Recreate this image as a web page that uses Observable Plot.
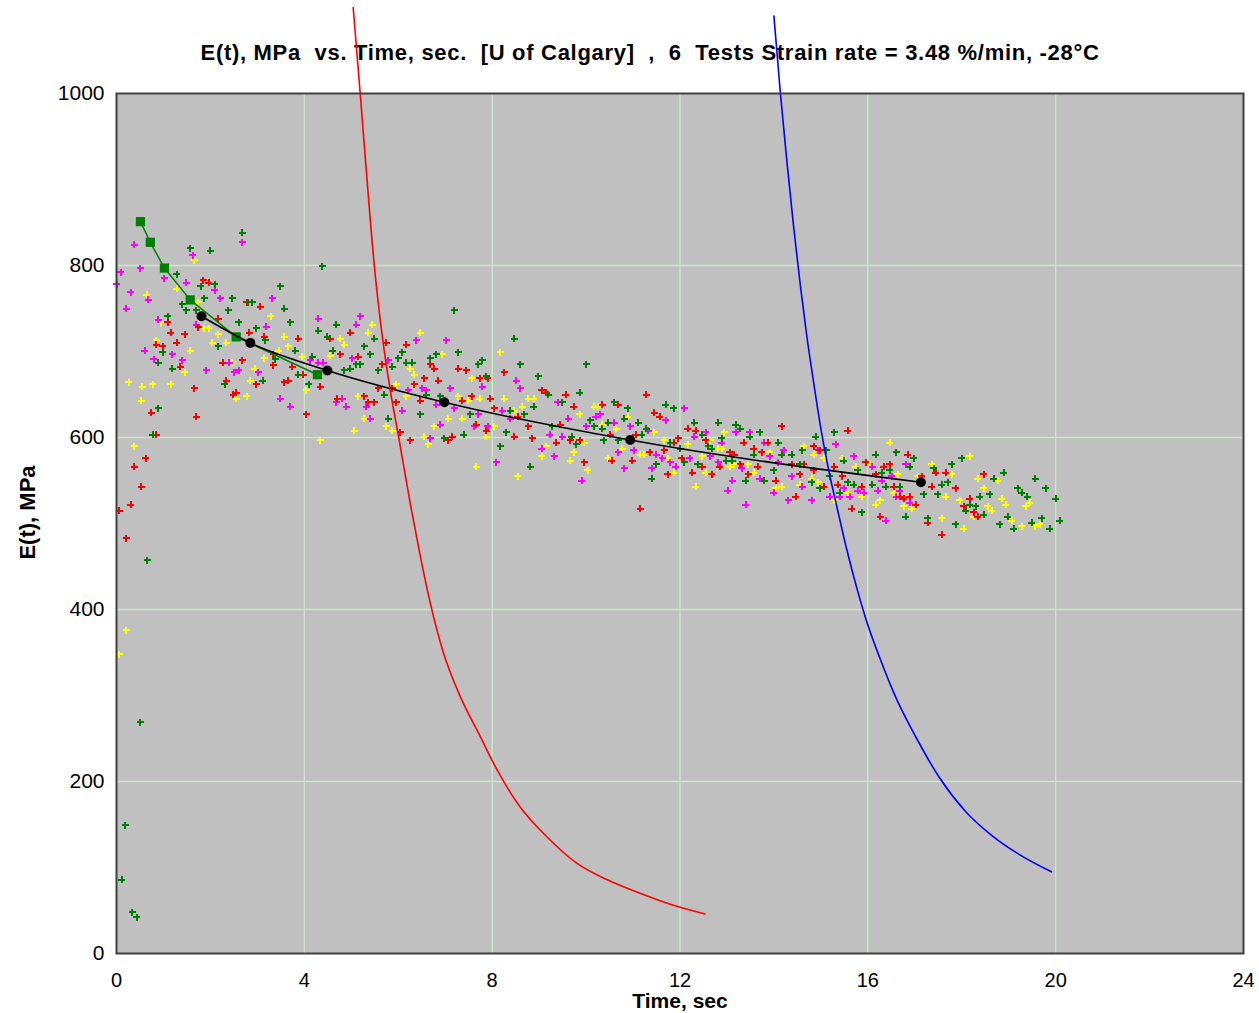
<!DOCTYPE html>
<html>
<head>
<meta charset="utf-8">
<script src="https://cdn.jsdelivr.net/npm/d3@7"></script>
<script src="https://cdn.jsdelivr.net/npm/@observablehq/plot@0.6"></script>
<style>
  html, body { margin: 0; padding: 0; background: #ffffff; }
  #chart svg text { white-space: pre; }
  #chart svg .title-text text { letter-spacing: 0.7px; }
</style>
</head>
<body>
<div id="chart"></div>
<script>
const titleText = "E(t), MPa  vs. Time, sec.  [U of Calgary]  ,  6  Tests Strain rate = 3.48 %/min, -28°C";
const xLabel = "Time, sec";
const yLabel = "E(t), MPa";
const xTicks = [0, 4, 8, 12, 16, 20, 24];
const yTicks = [0, 200, 400, 600, 800, 1000];

// scatter: [time (s), E(t) (MPa)]
const greenPts = [
  [2.68,838],[1.57,820],[2.00,817],[4.38,799],[1.28,790],[2.09,778],[1.79,776],[3.49,776],[1.87,762],[2.47,762],
  [2.81,757],[2.89,757],[1.40,755],[3.57,750],[1.49,748],[1.70,748],[2.38,748],[1.09,741],[2.60,734],[3.70,734],
  [4.30,724],[4.68,731],[2.98,727],[4.49,717],[3.17,713],[2.17,706],[0.98,699],[4.60,701],[0.89,687],[1.19,680],
  [3.81,701],[4.17,694],[3.38,691],[3.87,673],[3.11,666],[2.30,662],[4.09,662],
  [0.89,634],[0.77,603],[0.66,457],[0.51,269],[0.19,149],[0.11,86],[0.34,48],[0.43,42],
  [7.19,748],[5.49,715],[5.28,706],[8.47,715],[5.40,697],[6.09,699],[6.00,692],[6.68,692],[6.81,697],[7.28,699],
  [6.17,687],[6.30,687],[5.11,685],[5.19,685],[7.79,690],[7.70,685],[8.60,685],[4.98,680],[4.85,678],[5.57,678],
  [5.87,682],[7.87,671],[8.98,671],[5.70,650],[6.60,650],[6.89,648],[9.19,650],[8.89,636],[9.49,641],[6.47,627],
  [5.79,622],[7.53,627],[8.38,631],[8.68,627],[9.28,613],[9.70,601],[7.40,603],[6.98,599],[8.30,606],[9.79,592],
  [8.17,590],[8.81,566],
  [10.00,685],[9.87,652],[10.60,641],[10.89,634],[11.70,638],[11.87,634],[10.81,622],[11.11,617],[10.09,620],[10.47,617],
  [10.17,613],[10.34,610],[11.28,610],[11.19,603],[12.30,617],[12.81,617],[13.19,615],[13.28,610],[13.70,606],[13.49,601],
  [12.89,599],[12.47,603],[10.38,597],[10.68,597],[12.00,587],[11.79,594],[12.60,590],[12.68,587],[14.09,594],[14.89,601],
  [14.60,585],[14.17,580],[14.38,580],[13.57,580],[12.98,573],[13.11,573],[12.09,571],[12.38,569],[11.49,569],[14.00,562],
  [14.55,569],[11.40,552],[13.40,550],[13.79,550],[14.81,548],
  [15.28,606],[15.11,585],[15.49,573],[16.17,580],[16.60,583],[16.98,576],[16.89,566],[16.47,562],[16.30,559],[15.79,562],
  [15.19,555],[15.57,548],[15.70,545],[16.09,545],[16.38,543],[16.68,543],[14.98,541],[15.40,536],[17.40,564],[17.79,569],
  [18.00,576],[17.57,545],[17.70,548],[17.19,534],[17.49,534],[18.89,559],[18.68,552],[19.57,552],[19.19,541],[19.28,536],
  [19.79,541],[19.40,531],[18.38,531],[18.60,534],[20.00,529],[18.17,522],[18.30,520],[18.09,515],[18.47,510],[15.87,513],
  [16.81,508],[17.28,506],[18.98,508],[19.70,506],[20.09,503],[18.81,499],[17.87,499],[19.49,501],[19.11,494],[19.87,494]
];

const redPts = [
  [0.74,629],[1.70,624],[0.85,603],[0.62,576],[0.38,566],[0.53,543],[0.30,522],[0.06,515],[0.21,483],
  [1.85,783],[1.96,780],[2.77,757],[3.06,752],[2.17,738],[1.09,734],[1.74,728],[1.15,722],[1.45,720],[0.85,708],
  [0.98,706],[1.28,710],[2.83,722],[3.15,717],[3.87,715],[4.55,715],[3.34,697],[1.36,682],[2.26,687],[2.68,690],
  [3.34,684],[3.74,682],[3.98,673],[2.34,666],[2.98,662],[3.57,664],[3.66,666],[1.66,657],[2.49,650],[2.55,652],
  [4.34,659],[4.70,645],[4.04,627],
  [4.98,722],[6.17,708],[5.74,710],[4.77,697],[5.15,694],[6.68,685],[6.77,680],[7.28,680],[7.45,678],[5.66,685],
  [8.26,676],[6.55,669],[7.74,669],[7.91,669],[6.85,666],[6.34,662],[5.57,657],[5.87,657],[5.28,648],[6.47,643],
  [7.36,643],[7.57,648],[7.96,645],[9.57,650],[9.06,655],[9.15,652],[5.36,641],[5.49,641],[5.96,641],[8.04,634],
  [8.55,624],[9.74,636],[8.77,613],[9.45,615],[7.66,615],[7.87,608],[6.04,606],[6.26,597],[7.15,601],[7.06,597],
  [8.47,601],[8.85,599],[9.66,597],[9.36,594],
  [11.28,650],[10.34,638],[10.68,638],[11.45,629],[11.57,624],[14.17,613],[12.17,610],[12.34,608],[11.06,603],[12.55,597],
  [11.96,599],[11.87,594],[13.36,594],[13.87,594],[9.87,597],[10.51,603],[11.66,585],[11.36,583],[13.57,587],[13.74,583],
  [13.06,583],[13.15,580],[14.85,590],[10.98,573],[10.55,573],[9.96,571],[12.04,576],[12.85,566],[12.47,566],[13.28,569],
  [13.66,566],[14.38,569],[14.64,569],[14.85,562],[11.74,557],[12.26,559],[12.68,557],[13.45,557],[14.55,557],[14.04,550],
  [14.47,531],[11.15,517],
  [15.57,608],[14.98,585],[16.85,580],[15.96,571],[16.47,569],[16.34,566],[15.28,566],[17.66,559],[17.45,559],[18.47,557],
  [16.17,557],[15.45,555],[15.06,543],[15.87,543],[16.55,543],[17.36,543],[17.87,541],[15.36,545],[16.68,531],[16.77,529],
  [16.89,531],[17.02,522],[18.17,529],[18.04,520],[15.66,517],[18.26,513],[18.34,508],[16.26,508],[17.28,501],[17.57,487],
  [17.15,555]
];

const magentaPts = [
  [0.38,824],[2.68,827],[1.62,812],[0.09,792],[0.51,797],[0.00,778],[1.02,785],[1.49,780],[2.09,771],[0.30,769],
  [0.68,760],[2.21,762],[3.32,762],[0.21,750],[4.30,738],[3.19,729],[1.70,731],[0.89,737],[0.60,701],[1.19,697],
  [0.79,691],[1.40,690],[1.91,678],[2.51,676],[2.60,678],[3.02,676],[2.40,687],[3.49,645],[3.70,636],[4.68,641],
  [4.13,690],[4.30,687],[4.40,687],
  [5.19,741],[5.11,731],[6.38,713],[7.02,713],[5.02,692],[5.79,690],[8.51,666],[7.79,659],[8.60,657],[6.51,657],
  [6.60,655],[6.21,655],[7.11,657],[4.81,645],[4.89,636],[5.32,636],[5.49,641],[6.81,638],[7.19,634],[6.09,631],
  [7.70,627],[8.21,631],[8.38,622],[9.40,641],[9.62,622],[5.40,622],[6.89,615],[7.62,613],[7.91,613],[9.23,603],
  [9.49,601],[6.68,599],[9.32,578],[8.09,571],[9.06,587],
  [10.21,624],[10.30,627],[10.60,617],[10.00,613],[11.70,620],[12.09,634],[10.94,613],[11.32,608],[12.55,606],[12.30,601],
  [13.19,606],[13.49,606],[12.89,594],[13.79,594],[14.21,585],[11.02,585],[10.68,583],[11.49,580],[11.62,576],[11.79,571],
  [12.21,576],[12.64,578],[12.81,571],[13.91,578],[14.09,571],[14.94,585],[11.40,564],[11.91,566],[10.81,564],[13.32,564],
  [14.38,555],[9.91,550],[13.70,552],[13.11,550],[14.60,543],[14.00,536],[13.02,538],[14.30,527],[13.40,522],[14.81,527],
  [15.32,592],[15.70,578],[16.09,566],[16.81,569],[15.49,541],[15.79,538],[15.91,536],[16.21,538],[16.51,555],[16.30,550],
  [15.19,531],[15.62,531],[16.60,531],[16.89,524],[16.38,503],[16.68,538],[15.40,531]
];

const yellowPts = [
  [0.53,643],[0.38,590],[0.21,376],[0.06,348],
  [1.66,806],[1.28,773],[0.64,766],[1.74,757],[0.94,734],[3.28,741],[1.87,727],[1.96,727],[2.17,720],[3.57,717],
  [0.85,713],[2.04,710],[2.34,710],[3.66,706],[1.57,701],[3.45,701],[3.15,692],[3.96,694],[4.55,695],[2.47,687],
  [2.94,680],[1.45,676],[2.85,666],[0.26,664],[0.55,659],[0.77,662],[1.15,662],[4.04,655],[2.55,645],[2.77,648],
  [4.34,597],
  [5.45,731],[5.36,722],[6.47,722],[4.77,715],[4.85,708],[8.17,699],[6.94,697],[6.26,680],[6.34,673],[7.57,669],
  [5.96,662],[8.77,645],[8.89,645],[7.28,648],[7.74,645],[8.26,645],[5.15,648],[6.17,648],[8.64,636],[8.47,631],
  [7.49,643],[5.28,622],[7.06,622],[7.36,622],[5.74,613],[5.87,608],[6.77,613],[8.04,613],[5.06,608],[6.55,601],
  [7.87,601],[6.64,592],[9.15,590],[9.06,578],[9.66,573],[9.74,583],[7.66,566],[8.55,555],
  [10.17,636],[10.26,636],[9.87,627],[10.89,624],[10.34,615],[10.64,610],[11.45,606],[12.94,606],[11.66,597],[9.96,594],
  [12.17,592],[12.64,597],[12.81,587],[12.89,587],[10.77,587],[11.15,580],[11.23,580],[11.74,576],[12.47,578],[13.91,583],
  [14.64,590],[14.85,580],[10.47,576],[13.06,566],[13.15,569],[13.45,569],[13.57,559],[12.55,559],[11.87,559],[10.04,562],
  [14.81,552],[14.55,545],[14.04,541],[14.17,543],[12.34,543],
  [16.47,594],[15.06,576],[15.45,576],[15.74,566],[16.04,569],[16.64,557],[17.06,555],[17.36,569],[18.17,578],[17.79,557],
  [18.34,552],[18.77,550],[18.47,541],[14.94,548],[15.57,536],[15.87,531],[16.55,536],[16.26,527],[16.17,522],[16.77,520],
  [16.94,517],[17.66,531],[17.96,527],[18.85,529],[18.94,522],[19.45,524],[19.36,520],[18.55,520],[18.64,515],[18.26,508],
  [17.57,506],[18.04,494],[19.06,503],[19.28,497],[19.57,497],[19.66,499],[15.28,527]
];

// green squares with connecting line
const greenSquares = [[0.51,851],[0.72,827],[1.02,797],[1.57,760],[2.55,717],[4.28,673]];
// black fitted curve nodes
const fitPts = [[1.81,741],[2.85,710],[4.49,678],[6.98,641],[10.94,597],[17.13,548]];
// red curve
const redCurve = [
  [5.04,1100],[5.19,1000],[5.33,903],[5.49,800],[5.65,722],[5.83,655],[6.01,600],[6.26,522],[6.47,462],[6.68,408],
  [6.96,350],[7.32,299],[7.74,253],[8.10,214],[8.60,170],[9.16,136],[9.80,105],[10.44,86],[11.15,70],[11.86,56],[12.53,46]
];
// blue curve
const blueCurve = [
  [14.00,1090],[14.14,999],[14.28,919],[14.42,845],[14.56,778],[14.70,718],[14.84,666],[15.01,607],[15.19,556],[15.33,522],
  [15.55,470],[15.76,426],[15.97,387],[16.26,343],[16.61,296],[17.04,250],[17.53,204],[18.10,164],[18.67,136],[19.23,115],[19.91,95]
];

const plusSymbol = {
  draw(context) {
    const r = 3.5;
    context.moveTo(-r, 0); context.lineTo(r, 0);
    context.moveTo(0, -r); context.lineTo(0, r);
  }
};

const toObj = (arr) => arr.map(([t, e]) => ({t, e}));
const scatter = (arr, color) => Plot.dot(toObj(arr), {
  x: "t", y: "e", symbol: plusSymbol, fill: "none", stroke: color, strokeWidth: 2, r: 3.5, shapeRendering: "crispEdges"
});

const gridColor = "#c6e6c6";

const chart = Plot.plot({
  width: 1259,
  height: 1013,
  marginLeft: 116,
  marginRight: 16,
  marginTop: 93,
  marginBottom: 60,
  style: { fontFamily: "'Liberation Sans', Arial, sans-serif", background: "#ffffff", color: "#000" },
  x: { domain: [0, 24], label: null },
  y: { domain: [0, 1000], label: null },
  marks: [
    Plot.frame({ fill: "#c0c0c0" }),
    Plot.gridX([4, 8, 12, 16, 20], { stroke: gridColor, strokeOpacity: 1, strokeWidth: 1.5 }),
    Plot.gridY([200, 400, 600, 800], { stroke: gridColor, strokeOpacity: 1, strokeWidth: 1.5 }),
    Plot.axisX(xTicks, { tickSize: 0, tickPadding: 19, fontSize: 20, label: null, fill: "#000", tickFormat: d3.format("d") }),
    Plot.axisY(yTicks, { tickSize: 0, tickPadding: 12, fontSize: 21, label: null, fill: "#000", tickFormat: d3.format("d") }),
    Plot.text([titleText], { frameAnchor: "top", lineAnchor: "middle", textAnchor: "middle", text: d => d, dy: -41, dx: -30, fontSize: 22, fontWeight: "bold", fill: "#000", className: "title-text" }),
    Plot.text([xLabel], { frameAnchor: "bottom", lineAnchor: "middle", textAnchor: "middle", text: d => d, dy: 48, fontSize: 21, fontWeight: "bold", fill: "#000" }),
    Plot.text([yLabel], { frameAnchor: "left", lineAnchor: "middle", textAnchor: "middle", text: d => d, dx: -89, dy: -11, rotate: -90, fontSize: 22, fontWeight: "bold", fill: "#000" }),
    scatter(yellowPts, "#ffff00"),
    scatter(magentaPts, "#ff00ff"),
    scatter(redPts, "#ff0000"),
    scatter(greenPts, "#008000"),
    Plot.line(toObj(greenSquares), { x: "t", y: "e", stroke: "#008000", strokeWidth: 1.5 }),
    Plot.dot(toObj(greenSquares), { x: "t", y: "e", symbol: "square", fill: "#008000", r: 5.2 }),
    Plot.line(toObj(fitPts), { x: "t", y: "e", stroke: "#000", strokeWidth: 1.6, curve: "monotone-x" }),
    Plot.dot(toObj(fitPts), { x: "t", y: "e", fill: "#000", r: 5 }),
    Plot.line(toObj(redCurve), { x: "t", y: "e", stroke: "#ff0000", strokeWidth: 1.6, curve: "monotone-x" }),
    Plot.line(toObj(blueCurve), { x: "t", y: "e", stroke: "#0000ff", strokeWidth: 1.6, curve: "monotone-x" }),
    Plot.frame({ stroke: "#404040", strokeWidth: 2 })
  ]
});

document.getElementById("chart").appendChild(chart);
</script>
</body>
</html>
